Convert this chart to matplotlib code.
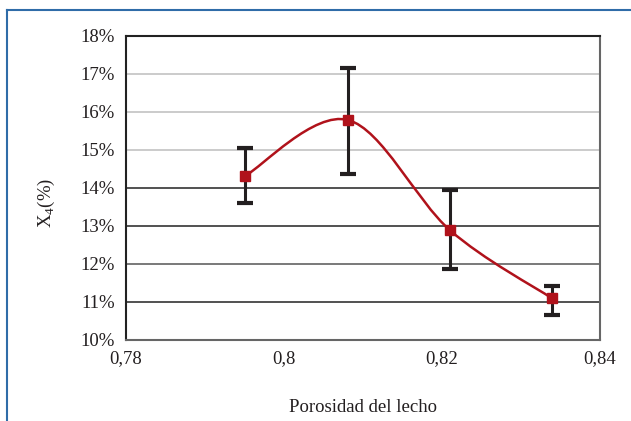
import numpy as np
import matplotlib.pyplot as plt
from matplotlib.path import Path
from matplotlib.patches import PathPatch
from matplotlib.lines import Line2D

# Porosity of the bed vs. X4 (%) with error bars
porosity = [0.7951, 0.8081, 0.8210, 0.8339]
x4_pct = [14.32, 15.79, 12.89, 11.10]
err_low = [0.72, 1.42, 1.02, 0.44]
err_high = [0.73, 1.36, 1.06, 0.33]

x_ticks = [0.78, 0.80, 0.82, 0.84]
x_tick_labels = ["0,78", "0,8", "0,82", "0,84"]
y_ticks = [10, 11, 12, 13, 14, 15, 16, 17, 18]
y_tick_labels = [f"{v}%" for v in y_ticks]

plt.rcParams['font.family'] = ['Liberation Serif', 'DejaVu Serif']
plt.rcParams['mathtext.fontset'] = 'custom'
plt.rcParams['mathtext.rm'] = 'Liberation Serif'

red = '#b0121b'
dark = '#231f20'

fig = plt.figure(figsize=(6.31, 4.21), dpi=100)
ax = fig.add_axes([0.1997, 0.1924, 0.7512, 0.7221])

ax.set_xlim(0.78, 0.84)
ax.set_ylim(10, 18)
ax.set_xticks(x_ticks)
ax.set_xticklabels(x_tick_labels)
ax.set_yticks(y_ticks)
ax.set_yticklabels(y_tick_labels)
ax.tick_params(axis='both', length=0, labelsize=13.5, colors='#231f20')
ax.tick_params(axis='x', pad=7)
ax.tick_params(axis='y', pad=8)

# horizontal grid, mixed shades
ax.yaxis.grid(True, linewidth=1.1)
grid_colors = {11: '#222222', 12: '#555555', 13: '#222222', 14: '#222222',
               15: '#bdbdbd', 16: '#bdbdbd', 17: '#bdbdbd'}
for val, gl in zip(y_ticks, ax.get_ygridlines()):
    gl.set_color(grid_colors.get(val, 'none'))
ax.set_axisbelow(True)

ax.spines['left'].set_color('#222222')
ax.spines['top'].set_color('#222222')
ax.spines['right'].set_color('#666666')
ax.spines['bottom'].set_color('#666666')
for s in ax.spines.values():
    s.set_linewidth(1.5)

# error bars
ax.errorbar(porosity, x4_pct, yerr=[err_low, err_high], fmt='none',
            ecolor=dark, elinewidth=2.2, capsize=5.6, capthick=3.0, zorder=2)

# smoothed line through the points (Catmull-Rom as cubic Bezier)
pts = np.column_stack([porosity, x4_pct])
padded = np.vstack([pts[0], pts, pts[-1]])
verts = [tuple(pts[0])]
codes = [Path.MOVETO]
for i in range(len(pts) - 1):
    p0, p1, p2, p3 = padded[i], padded[i + 1], padded[i + 2], padded[i + 3]
    c1 = p1 + (p2 - p0) / 6
    c2 = p2 - (p3 - p1) / 6
    verts += [tuple(c1), tuple(c2), tuple(p2)]
    codes += [Path.CURVE4] * 3
ax.add_patch(PathPatch(Path(verts, codes), facecolor='none', edgecolor=red,
                       linewidth=1.8, zorder=3))

ax.plot(porosity, x4_pct, linestyle='none', marker='s', markersize=7.7,
        color=red, zorder=4)

ax.set_xlabel("Porosidad del lecho", fontsize=13.5, color=dark)
ax.xaxis.set_label_coords(0.5, -0.194)
ax.set_ylabel(r"Χ$_4$(%)", fontsize=13.5, color=dark)
ax.yaxis.set_label_coords(-0.146, 0.45)

# blue frame around the figure (left and top edges)
fw, fh = 631, 421
fig.add_artist(Line2D([7 / fw, 7 / fw], [0, 1 - 10 / fh], color='#2f6ca8',
                      linewidth=1.5, transform=fig.transFigure))
fig.add_artist(Line2D([7 / fw, 1], [1 - 10 / fh, 1 - 10 / fh], color='#2f6ca8',
                      linewidth=1.5, transform=fig.transFigure))

fig.savefig("out.png", dpi=100)
